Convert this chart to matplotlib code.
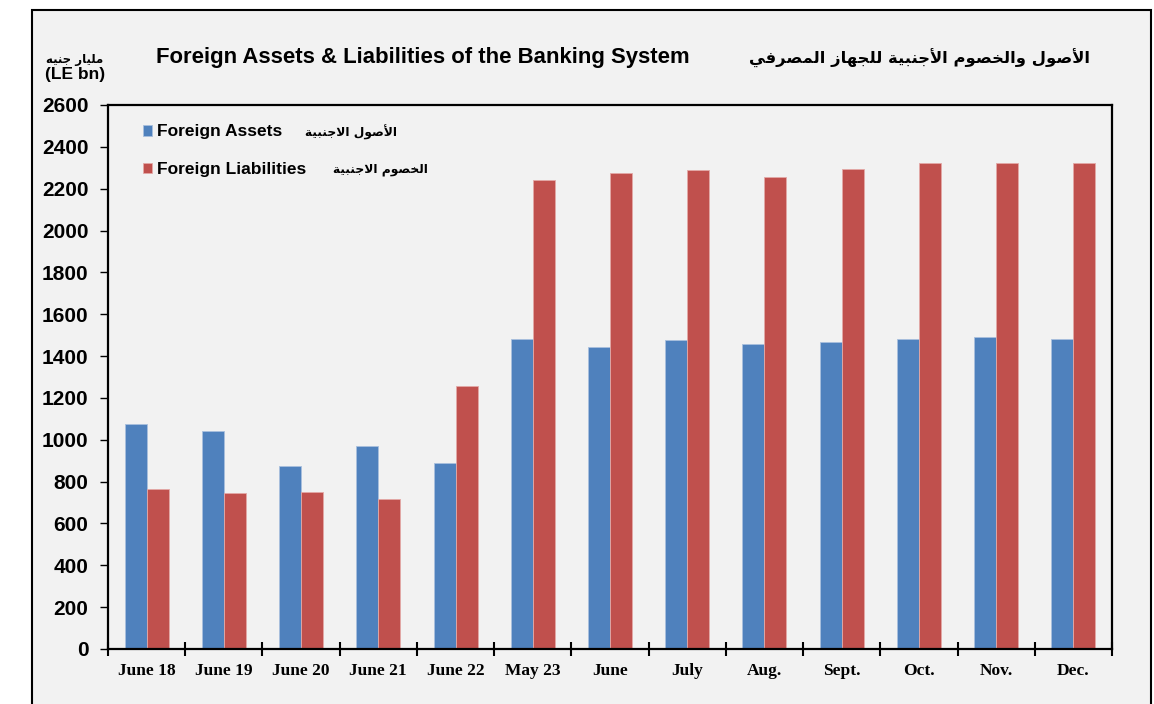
import numpy as np
import matplotlib.pyplot as plt
from matplotlib.patches import Rectangle

# data (LE bn)
categories = ['June 18', 'June 19', 'June 20', 'June 21', 'June 22', 'May 23',
              'June', 'July', 'Aug.', 'Sept.', 'Oct.', 'Nov.', 'Dec.']
foreign_assets = [1075, 1043, 873, 970, 888, 1484, 1442, 1476, 1456, 1467, 1483, 1491, 1480]
foreign_liabilities = [767, 745, 750, 718, 1257, 2240, 2277, 2290, 2258, 2296, 2323, 2323, 2321]
y_ticks = list(range(0, 2601, 200))

title_en = 'Foreign Assets & Liabilities of the Banking System'
title_ar = 'الأصول والخصوم الأجنبية للجهاز المصرفي'
unit_ar = 'مليار جنيه'
unit_en = '(LE bn)'
legend_en = ['Foreign Assets', 'Foreign Liabilities']
legend_ar = ['الأصول الاجنبية', 'الخصوم الاجنبية']

# matplotlib does no arabic shaping, so use presentation forms and reverse
FORMS = {
    'ا': ('\uFE8D', '\uFE8E', None, None),
    'أ': ('\uFE83', '\uFE84', None, None),
    'ب': ('\uFE8F', '\uFE90', '\uFE91', '\uFE92'),
    'ة': ('\uFE93', '\uFE94', None, None),
    'ج': ('\uFE9D', '\uFE9E', '\uFE9F', '\uFEA0'),
    'خ': ('\uFEA5', '\uFEA6', '\uFEA7', '\uFEA8'),
    'ر': ('\uFEAD', '\uFEAE', None, None),
    'ز': ('\uFEAF', '\uFEB0', None, None),
    'ص': ('\uFEB9', '\uFEBA', '\uFEBB', '\uFEBC'),
    'ف': ('\uFED1', '\uFED2', '\uFED3', '\uFED4'),
    'ل': ('\uFEDD', '\uFEDE', '\uFEDF', '\uFEE0'),
    'م': ('\uFEE1', '\uFEE2', '\uFEE3', '\uFEE4'),
    'ن': ('\uFEE5', '\uFEE6', '\uFEE7', '\uFEE8'),
    'ه': ('\uFEE9', '\uFEEA', '\uFEEB', '\uFEEC'),
    'و': ('\uFEED', '\uFEEE', None, None),
    'ي': ('\uFEF1', '\uFEF2', '\uFEF3', '\uFEF4'),
}
LAM_ALEF = {'ا': ('\uFEFB', '\uFEFC'), 'أ': ('\uFEF7', '\uFEF8')}


def shape(text):
    chars = list(text)
    out = []
    i = 0
    while i < len(chars):
        c = chars[i]
        if c not in FORMS:
            out.append(c)
            i += 1
            continue
        prev = chars[i - 1] if i > 0 else ' '
        joins_prev = prev in FORMS and FORMS[prev][2] is not None
        if c == 'ل' and i + 1 < len(chars) and chars[i + 1] in LAM_ALEF:
            out.append(LAM_ALEF[chars[i + 1]][1 if joins_prev else 0])
            i += 2
            continue
        nxt = chars[i + 1] if i + 1 < len(chars) else ' '
        joins_next = FORMS[c][2] is not None and nxt in FORMS
        iso, fin, ini, med = FORMS[c]
        if joins_prev and joins_next:
            out.append(med)
        elif joins_prev:
            out.append(fin)
        elif joins_next:
            out.append(ini)
        else:
            out.append(iso)
        i += 1
    return ''.join(reversed(out))


W, H = 1154, 704
blue = '#4F81BD'
red = '#C0504D'
bg = '#F2F2F2'
ar_font = ['DejaVu Sans']
en_font = ['Liberation Sans', 'DejaVu Sans']

fig = plt.figure(figsize=(W / 100, H / 100), dpi=100, facecolor='white')
# outer frame of the slide
fig.add_artist(Rectangle((32 / W, -0.02), (1151 - 32) / W, 1 - 10 / H + 0.02,
                         transform=fig.transFigure, facecolor=bg,
                         edgecolor='black', lw=1.5, zorder=0))

ax = fig.add_axes([108 / W, 1 - 649 / H, (1112 - 108) / W, (649 - 105) / H])
ax.set_facecolor(bg)

x = np.arange(len(categories))
bw = 0.285
b1 = ax.bar(x - bw / 2, foreign_assets, bw, color=blue, edgecolor='#A9C0DE', lw=0.6)
b2 = ax.bar(x + bw / 2, foreign_liabilities, bw, color=red, edgecolor='#E3A9A7', lw=0.6)

ax.set_xlim(-0.5, len(categories) - 0.5)
ax.set_ylim(0, 2600)
ax.set_yticks(y_ticks)
ax.set_yticklabels([str(v) for v in y_ticks], fontfamily=en_font,
                   fontweight='bold', fontsize=15)
ax.set_xticks(x)
ax.set_xticklabels(categories, fontfamily=['Liberation Serif'],
                   fontweight='bold', fontsize=12.5)
ax.set_xticks(np.arange(-0.5, len(categories)), minor=True)
ax.tick_params(axis='x', which='major', length=0, pad=10)
ax.tick_params(axis='x', which='minor', direction='inout', length=10, width=1.5)
ax.tick_params(axis='y', direction='out', length=6, width=1, pad=8)
for s in ax.spines.values():
    s.set_linewidth(1.6)
    s.set_color('black')

leg = ax.legend([b1, b2], legend_en, loc='upper left', bbox_to_anchor=(0.019, 0.993),
                frameon=False, handlelength=0.55, handleheight=0.55, handletextpad=0.25,
                labelspacing=1.3, prop={'family': en_font, 'weight': 'bold', 'size': 12.5})

fig.text(397 / W, 1 - 132 / H, shape(legend_ar[0]), ha='right', va='center',
         fontfamily=ar_font, fontweight='bold', fontsize=8.8)
fig.text(428 / W, 1 - 170 / H, shape(legend_ar[1]), ha='right', va='center',
         fontfamily=ar_font, fontweight='bold', fontsize=8.8)

fig.text(423 / W, 1 - 58 / H, title_en, ha='center', va='center',
         fontfamily=en_font, fontweight='bold', fontsize=15.9)
fig.text(1090 / W, 1 - 58 / H, shape(title_ar), ha='right', va='center',
         fontfamily=ar_font, fontweight='bold', fontsize=11.8)
fig.text(75 / W, 1 - 59 / H, shape(unit_ar), ha='center', va='center',
         fontfamily=ar_font, fontweight='bold', fontsize=8.5)
fig.text(75 / W, 1 - 74 / H, unit_en, ha='center', va='center',
         fontfamily=en_font, fontweight='bold', fontsize=12.5)

fig.savefig('out.png', dpi=100, facecolor='white')
